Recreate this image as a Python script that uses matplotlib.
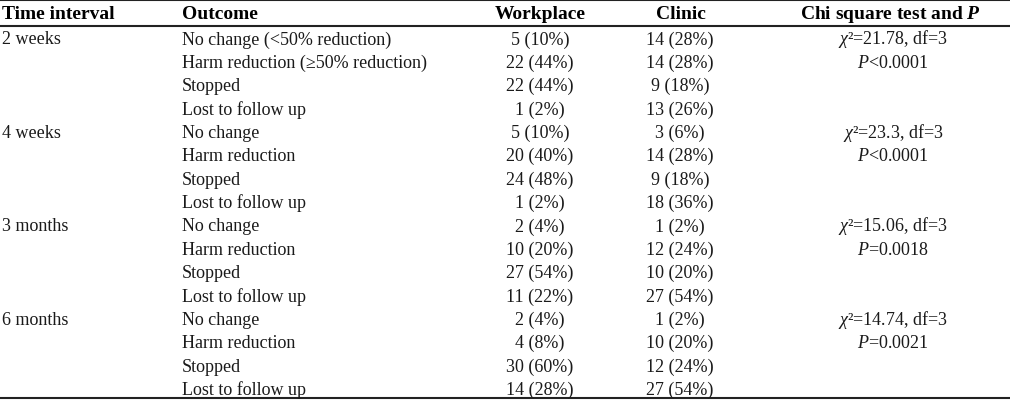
import matplotlib
matplotlib.use("Agg")
import matplotlib.pyplot as plt

plt.rcParams['font.family'] = ['Liberation Serif', 'DejaVu Serif']
plt.rcParams['mathtext.fontset'] = 'custom'
plt.rcParams['mathtext.rm'] = 'Liberation Serif'
plt.rcParams['mathtext.it'] = 'Liberation Serif:italic'
plt.rcParams['mathtext.bf'] = 'Liberation Serif:italic:bold'

# table contents
headers = ['Time interval', 'Outcome', 'Workplace', 'Clinic', r'Chi square test and $\mathbf{P}$']
intervals = ['2 weeks', '4 weeks', '3 months', '6 months']
outcomes_first = ['No change (<50% reduction)', 'Harm reduction (\u226550% reduction)',
                  'Stopped', 'Lost to follow up']
outcomes_rest = ['No change', 'Harm reduction', 'Stopped', 'Lost to follow up']

work_n = [[5, 22, 22, 1], [5, 20, 24, 1], [2, 10, 27, 11], [2, 4, 30, 14]]
work_pct = [[10, 44, 44, 2], [10, 40, 48, 2], [4, 20, 54, 22], [4, 8, 60, 28]]
clinic_n = [[14, 14, 9, 13], [3, 14, 9, 18], [1, 12, 10, 27], [1, 10, 12, 27]]
clinic_pct = [[28, 28, 18, 26], [6, 28, 18, 36], [2, 24, 20, 54], [2, 20, 24, 54]]
chi2 = ['21.78', '23.3', '15.06', '14.74']
df = [3, 3, 3, 3]
pvals = ['<0.0001', '<0.0001', '=0.0018', '=0.0021']

W, H = 1010, 402
fig = plt.figure(figsize=(W / 100, H / 100), dpi=100)
ax = fig.add_axes([0, 0, 1, 1])
ax.set_xlim(0, W)
ax.set_ylim(H, 0)
ax.axis('off')

# column anchors (pixels)
x_time, x_out, x_work, x_clin, x_chi = 2, 182, 540, 680, 893
fs = 13
fs_head = 14

# rules
ax.plot([0, W], [1, 1], color='#222222', lw=1.5)
ax.plot([0, W], [26.5, 26.5], color='#222222', lw=1.5)
ax.plot([0, W], [399, 399], color='#222222', lw=1.5)

# header
hy = 19
ax.text(x_time, hy, headers[0], fontsize=fs_head, fontweight='bold', ha='left', va='baseline')
ax.text(x_out, hy, headers[1], fontsize=fs_head, fontweight='bold', ha='left', va='baseline')
ax.text(x_work, hy, headers[2], fontsize=fs_head, fontweight='bold', ha='center', va='baseline')
ax.text(x_clin + 1, hy, headers[3], fontsize=fs_head, fontweight='bold', ha='center', va='baseline')
ax.text(x_chi - 3, hy, headers[4], fontsize=fs_head, fontweight='bold', ha='center', va='baseline')

y0 = 44.5
pitch = 23.37
txt = '#1a1a1a'
for g, name in enumerate(intervals):
    outs = outcomes_first if g == 0 else outcomes_rest
    for r in range(4):
        y = y0 + (g * 4 + r) * pitch
        if r == 0:
            ax.text(x_time, y, name, fontsize=fs, color=txt, ha='left', va='baseline')
            ax.text(x_chi, y, r'$\chi$' + '\u00b2=%s, df=%d' % (chi2[g], df[g]),
                    fontsize=fs, color=txt, ha='center', va='baseline')
        if r == 1:
            ax.text(x_chi, y, r'$P$' + pvals[g], fontsize=fs, color=txt,
                    ha='center', va='baseline')
        ax.text(x_out, y, outs[r], fontsize=fs, color=txt, ha='left', va='baseline')
        ax.text(x_work, y, '%d (%d%%)' % (work_n[g][r], work_pct[g][r]),
                fontsize=fs, color=txt, ha='center', va='baseline')
        ax.text(x_clin, y, '%d (%d%%)' % (clinic_n[g][r], clinic_pct[g][r]),
                fontsize=fs, color=txt, ha='center', va='baseline')

fig.savefig('out.png', dpi=100)
